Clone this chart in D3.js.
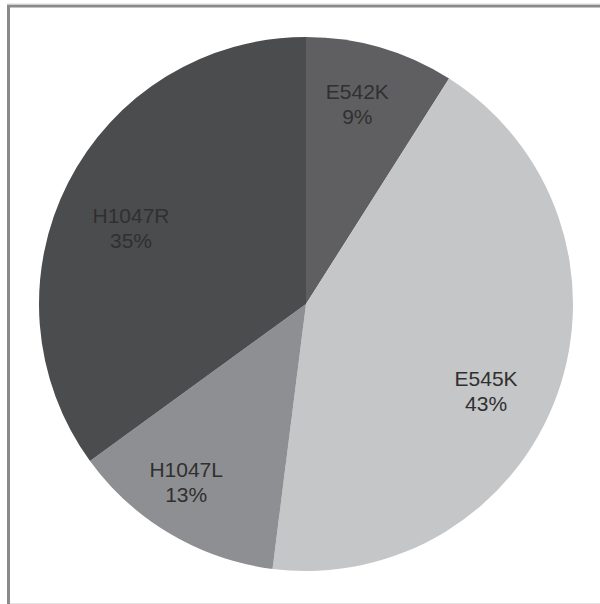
<!DOCTYPE html>
<html>
<head>
<meta charset="utf-8">
<script src="https://cdn.jsdelivr.net/npm/d3@7"></script>
<style>
  body { margin: 0; background: #fff; }
  svg { display: block; }
</style>
</head>
<body>
<script>
// mutation share, clockwise from 12 o'clock
var labels = ["E542K", "E545K", "H1047L", "H1047R"];
var values = [9, 43, 13, 35];
var colors = ["#5f5f61", "#c5c6c8", "#8e8f92", "#4b4c4e"];

var data = labels.map(function (d, i) { return {label: d, value: values[i]}; });

var width = 600, height = 604;
var cx = 306, cy = 304, radius = 267;

// small hand tweaks so the labels sit where the original had them
var labelNudge = {
	"E542K": [-5, -6],
	"E545K": [-10, 19],
	"H1047L": [-17, 4],
	"H1047R": [5, 16]
};

var svg = d3.select("body").append("svg")
	.attr("width", width)
	.attr("height", height);

// frame: dark on top/left, faint at the bottom
svg.append("line")
	.attr("x1", 7).attr("x2", 600).attr("y1", 6).attr("y2", 6)
	.attr("stroke", "#8a8a8a").attr("stroke-width", 3);
svg.append("line")
	.attr("x1", 7).attr("x2", 600).attr("y1", 4).attr("y2", 4)
	.attr("stroke", "#d8d8d8").attr("stroke-width", 1);
svg.append("line")
	.attr("x1", 8.5).attr("x2", 8.5).attr("y1", 5).attr("y2", 604)
	.attr("stroke", "#8a8a8a").attr("stroke-width", 3);
svg.append("line")
	.attr("x1", 10).attr("x2", 600).attr("y1", 603.5).attr("y2", 603.5)
	.attr("stroke", "#e4e4e4").attr("stroke-width", 1);

var pie = d3.pie()
	.sort(null)
	.value(function (d) { return d.value; });

var arc = d3.arc()
	.innerRadius(0)
	.outerRadius(radius);

var labelArc = d3.arc()
	.innerRadius(202)
	.outerRadius(202);

var g = svg.append("g")
	.attr("transform", "translate(" + cx + "," + cy + ")");

var arcs = pie(data);

g.selectAll("path.slice")
	.data(arcs)
	.enter().append("path")
	.attr("class", "slice")
	.attr("d", arc)
	.attr("fill", function (d, i) { return colors[i]; });

var text = g.selectAll("text.lbl")
	.data(arcs)
	.enter().append("text")
	.attr("class", "lbl")
	.attr("text-anchor", "middle")
	.attr("fill", "#303030")
	.style("font-family", "'Liberation Sans', Arial, Helvetica, sans-serif")
	.style("font-size", "21px")
	.attr("transform", function (d) {
		var c = labelArc.centroid(d);
		var n = labelNudge[d.data.label] || [0, 0];
		return "translate(" + (c[0] + n[0]) + "," + (c[1] + n[1]) + ")";
	});

text.append("tspan")
	.attr("x", 0)
	.attr("y", -5)
	.text(function (d) { return d.data.label; });

text.append("tspan")
	.attr("x", 0)
	.attr("y", 20)
	.text(function (d) { return d.data.value + "%"; });
</script>
</body>
</html>
